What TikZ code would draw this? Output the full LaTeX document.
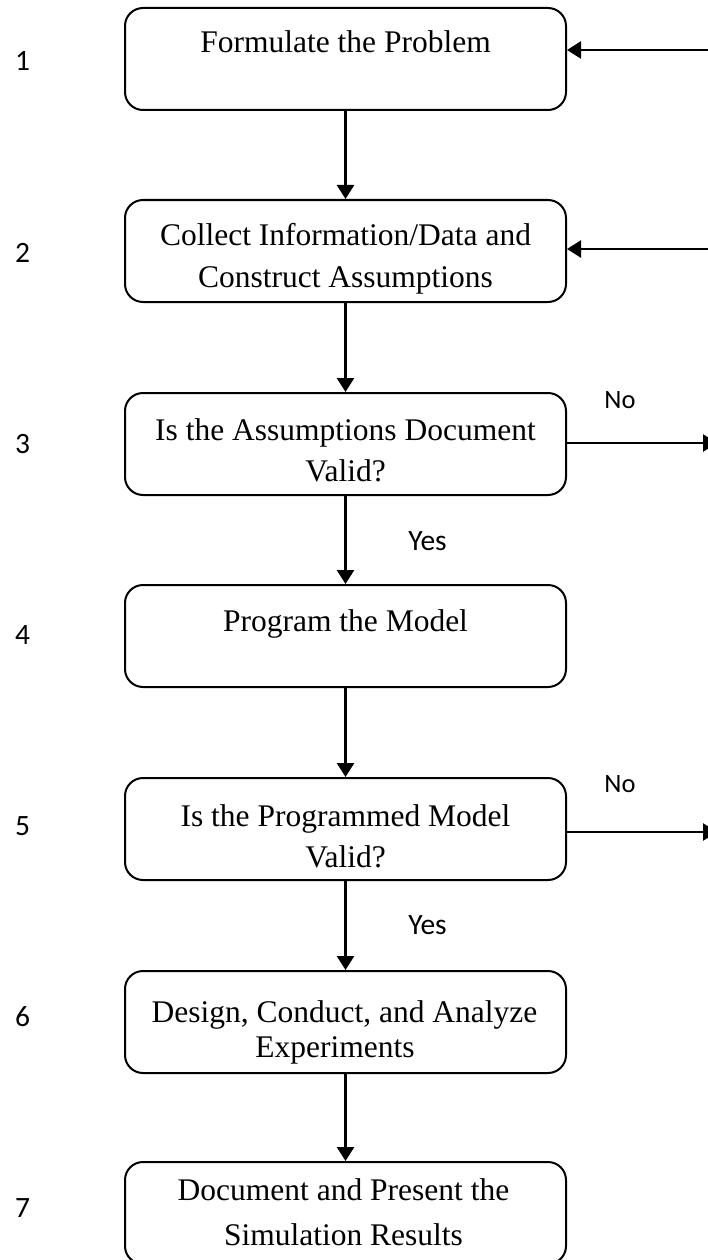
\documentclass[tikz,border=0pt]{standalone}
\usepackage{fontspec}
\setmainfont{Liberation Serif}
\newfontfamily\lblfont{Carlito}
\usetikzlibrary{arrows.meta}
\begin{document}
\begin{tikzpicture}[x=1pt,y=-1pt,
  stepbox/.style={draw,line width=2pt,rounded corners=18pt,minimum width=441pt,minimum height=102pt,inner sep=0pt},
  boxtext/.style={font=\fontsize{31.5}{40}\selectfont,anchor=base,inner sep=0pt},
  lbl/.style={font=\lblfont\fontsize{29.5}{34}\selectfont,inner sep=0pt},
  nolbl/.style={font=\lblfont\fontsize{26.5}{30}\selectfont,inner sep=0pt},
  conn/.style={line width=2.6pt,-{Triangle[length=14pt,width=17pt]}}]
\useasboundingbox (0,0) rectangle (708,1260);
% boxes
\node[stepbox] (b1) at (345.5,59) {};
\node[stepbox] (b2) at (345.5,251) {};
\node[stepbox] (b3) at (345.5,444) {};
\node[stepbox] (b4) at (345.5,636) {};
\node[stepbox] (b5) at (345.5,829) {};
\node[stepbox] (b6) at (345.5,1022) {};
\node[stepbox] (b7) at (345.5,1213) {};
% texts
\node[boxtext] (t1) at (345.5,53) {Formulate the Problem};
\node[boxtext] (t2a) at (345.5,245) {Collect Information/Data and};
\node[boxtext] (t2b) at (345.5,287) {Construct Assumptions};
\node[boxtext] (t3a) at (345.5,440) {Is the Assumptions Document};
\node[boxtext] (t3b) at (345.5,481) {Valid?};
\node[boxtext] (t4) at (345.5,631) {Program the Model};
\node[boxtext] (t5a) at (345.5,826) {Is the Programmed Model};
\node[boxtext] (t5b) at (345.5,867) {Valid?};
\node[boxtext] (t6a) at (344.5,1022) {Design, Conduct, and Analyze};
\node[boxtext] (t6b) at (335,1057) {Experiments};
\node[boxtext] (t7a) at (343.5,1200) {Document and Present the};
\node[boxtext] (t7b) at (343.5,1245) {Simulation Results};
% step numbers
\node[lbl] (n1) at (22.5,61.5) {1};
\node[lbl] (n2) at (22.5,252.6) {2};
\node[lbl] (n3) at (22.5,443.7) {3};
\node[lbl] (n4) at (22.5,634.8) {4};
\node[lbl] (n5) at (22.5,825.9) {5};
\node[lbl] (n6) at (22.5,1017) {6};
\node[lbl] (n7) at (22.5,1208) {7};
% yes / no
\node[lbl] (y1) at (427.5,541) {Yes};
\node[lbl] (y2) at (427.5,925.5) {Yes};
\node[nolbl] (no1) at (620,400) {No};
\node[nolbl] (no2) at (620,784) {No};
% vertical connectors
\draw[conn] (b1.south) -- (b2.north);
\draw[conn] (b2.south) -- (b3.north);
\draw[conn] (b3.south) -- (b4.north);
\draw[conn] (b4.south) -- (b5.north);
\draw[conn] (b5.south) -- (b6.north);
\draw[conn] (b6.south) -- (b7.north);
% side connectors
\coordinate (r1) at (712,50);
\coordinate (r2) at (712,249);
\coordinate (r3) at (717,443);
\coordinate (r5) at (717,832);
\draw[conn] (r1) -- (b1.east |- r1);
\draw[conn] (r2) -- (b2.east |- r2);
\draw[conn] (b3.east |- r3) -- (r3);
\draw[conn] (b5.east |- r5) -- (r5);
\end{tikzpicture}
\end{document}
